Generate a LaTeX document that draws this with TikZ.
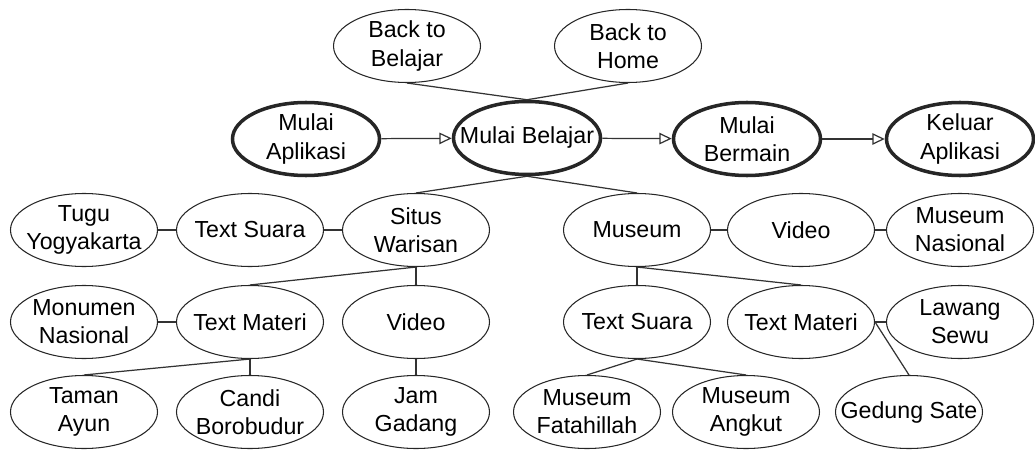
\documentclass[tikz,border=0pt]{standalone}
\usepackage{fontspec}
\setmainfont{Liberation Sans}
\usetikzlibrary{shapes.geometric,arrows.meta}
\colorlet{inkline}{black!80}

\tikzset{
  bubble/.style={ellipse, draw=black!85, line width=0.6pt, inner ysep=0pt,
    inner xsep=-0.34cm, minimum width=2.94cm, minimum height=1.46cm,
    align=center, font=\fontsize{13.2}{16}\selectfont},
  mainbubble/.style={bubble, line width=2pt},
  link/.style={draw=inkline, line width=0.7pt},
  flow/.style={link, -{Triangle[open, length=7pt, width=6.5pt]}}
}

\begin{document}
\begin{tikzpicture}
\useasboundingbox (0,0) rectangle (20.70,9.00);
\node[bubble] (backbel) at (8.14,8.08) {Back to\\Belajar};
\node[bubble] (backhome) at (12.56,8.08) {Back to\\Home};
\node[mainbubble] (aplikasi) at (6.12,6.22) {Mulai\\Aplikasi};
\node[mainbubble] (belajar) at (10.54,6.24) {Mulai Belajar};
\node[mainbubble] (bermain) at (14.94,6.22) {Mulai\\Bermain};
\node[mainbubble] (keluar) at (19.20,6.22) {Keluar\\Aplikasi};
\node[bubble] (tugu) at (1.68,4.40) {Tugu\\Yogyakarta};
\node[bubble] (suaraA) at (5.00,4.40) {Text Suara};
\node[bubble] (situs) at (8.32,4.40) {Situs\\Warisan};
\node[bubble] (museum) at (12.74,4.40) {Museum};
\node[bubble] (videoB) at (16.02,4.40) {Video};
\node[bubble] (musnas) at (19.20,4.40) {Museum\\Nasional};
\node[bubble] (monumen) at (1.68,2.56) {Monumen\\Nasional};
\node[bubble] (materiA) at (5.00,2.56) {Text Materi};
\node[bubble] (videoA) at (8.32,2.56) {Video};
\node[bubble] (suaraB) at (12.74,2.56) {Text Suara};
\node[bubble] (materiB) at (16.02,2.56) {Text Materi};
\node[bubble] (lawang) at (19.20,2.56) {Lawang\\Sewu};
\node[bubble] (taman) at (1.68,0.76) {Taman\\Ayun};
\node[bubble] (candi) at (5.00,0.76) {Candi\\Borobudur};
\node[bubble] (jam) at (8.32,0.76) {Jam\\Gadang};
\node[bubble] (fatahillah) at (11.74,0.76) {Museum\\Fatahillah};
\node[bubble] (angkut) at (14.92,0.76) {Museum\\Angkut};
\node[bubble] (gedung) at (18.18,0.76) {Gedung Sate};

\draw[flow] (aplikasi) -- (belajar);
\draw[flow] (belajar) -- (bermain);
\draw[flow] (bermain) -- (keluar);
\draw[link] (backbel.south) -- (belajar.north);
\draw[link] (backhome.south) -- (belajar.north);
\draw[link] (belajar.south) -- (situs.north);
\draw[link] (belajar.south) -- (museum.north);
\draw[link] (tugu) -- (suaraA);
\draw[link] (suaraA) -- (situs);
\draw[link] (situs.south) -- (materiA.north);
\draw[link] (situs.south) -- (videoA.north);
\draw[link] (monumen) -- (materiA);
\draw[link] (materiA.south) -- (taman.north);
\draw[link] (materiA.south) -- (candi.north);
\draw[link] (videoA.south) -- (jam.north);
\draw[link] (museum) -- (videoB);
\draw[link] (videoB) -- (musnas);
\draw[link] (museum.south) -- (suaraB.north);
\draw[link] (museum.south) -- (materiB.north);
\draw[link] (materiB) -- (lawang);
\draw[link] (materiB.east) -- (gedung.north);
\draw[link] (suaraB.south) -- (fatahillah.north);
\draw[link] (suaraB.south) -- (angkut.north);
\end{tikzpicture}
\end{document}
